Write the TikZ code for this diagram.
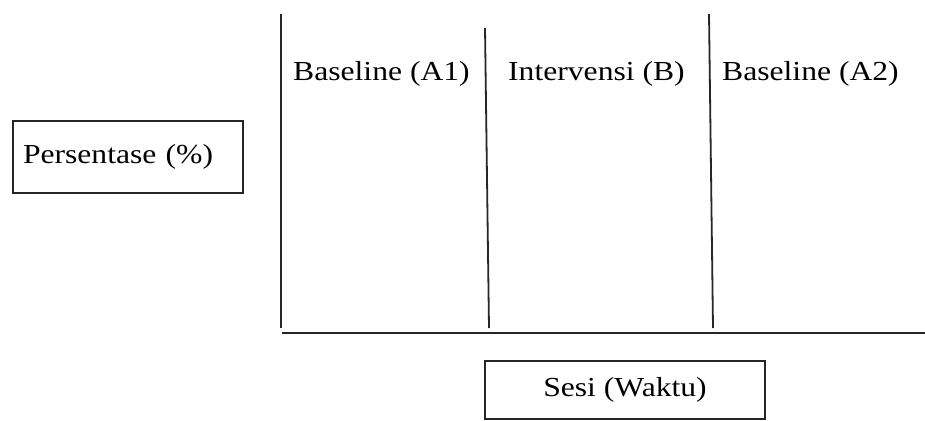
\documentclass[tikz,border=0pt]{standalone}
\usepackage{fontspec}
\setmainfont{Liberation Serif}[FakeStretch=1.15]
\begin{document}
\begin{tikzpicture}[x=1pt,y=-1pt,
  axis/.style={line width=1.8pt, black!85},
  lbl/.style={anchor=base west, inner sep=0pt, font=\fontsize{27.5}{30}\selectfont},
  box/.style={draw, line width=1.8pt, black!85, text=black, font=\fontsize{27.5}{30}\selectfont}]
\useasboundingbox (0,0) rectangle (925,420);
% axes and dividers
\coordinate (ytop) at (281,14);
\coordinate (ybot) at (281,328);
\coordinate (xl) at (282,333);
\coordinate (xr) at (925,333);
\coordinate (d1t) at (485,28);
\coordinate (d1b) at (489,328);
\coordinate (d2t) at (709,14);
\coordinate (d2b) at (713,328);
\draw[axis] (ytop) -- (ybot);
\draw[axis] (xl) -- (xr);
\draw[axis] (d1t) -- (d1b);
\draw[axis] (d2t) -- (d2b);
% phase labels
\node[lbl] (a1) at (293,80) {Baseline (A1)};
\node[lbl] (b) at (508,80) {Intervensi (B)};
\node[lbl] (a2) at (722,80) {Baseline (A2)};
% axis boxes
\node[box, minimum width=230, minimum height=72, text width=210, inner xsep=10, align=left] (pers) at (128,157) {Persentase (\%)};
\node[box, minimum width=280, minimum height=58] (sesi) at (625,390) {Sesi (Waktu)};
\end{tikzpicture}
\end{document}
